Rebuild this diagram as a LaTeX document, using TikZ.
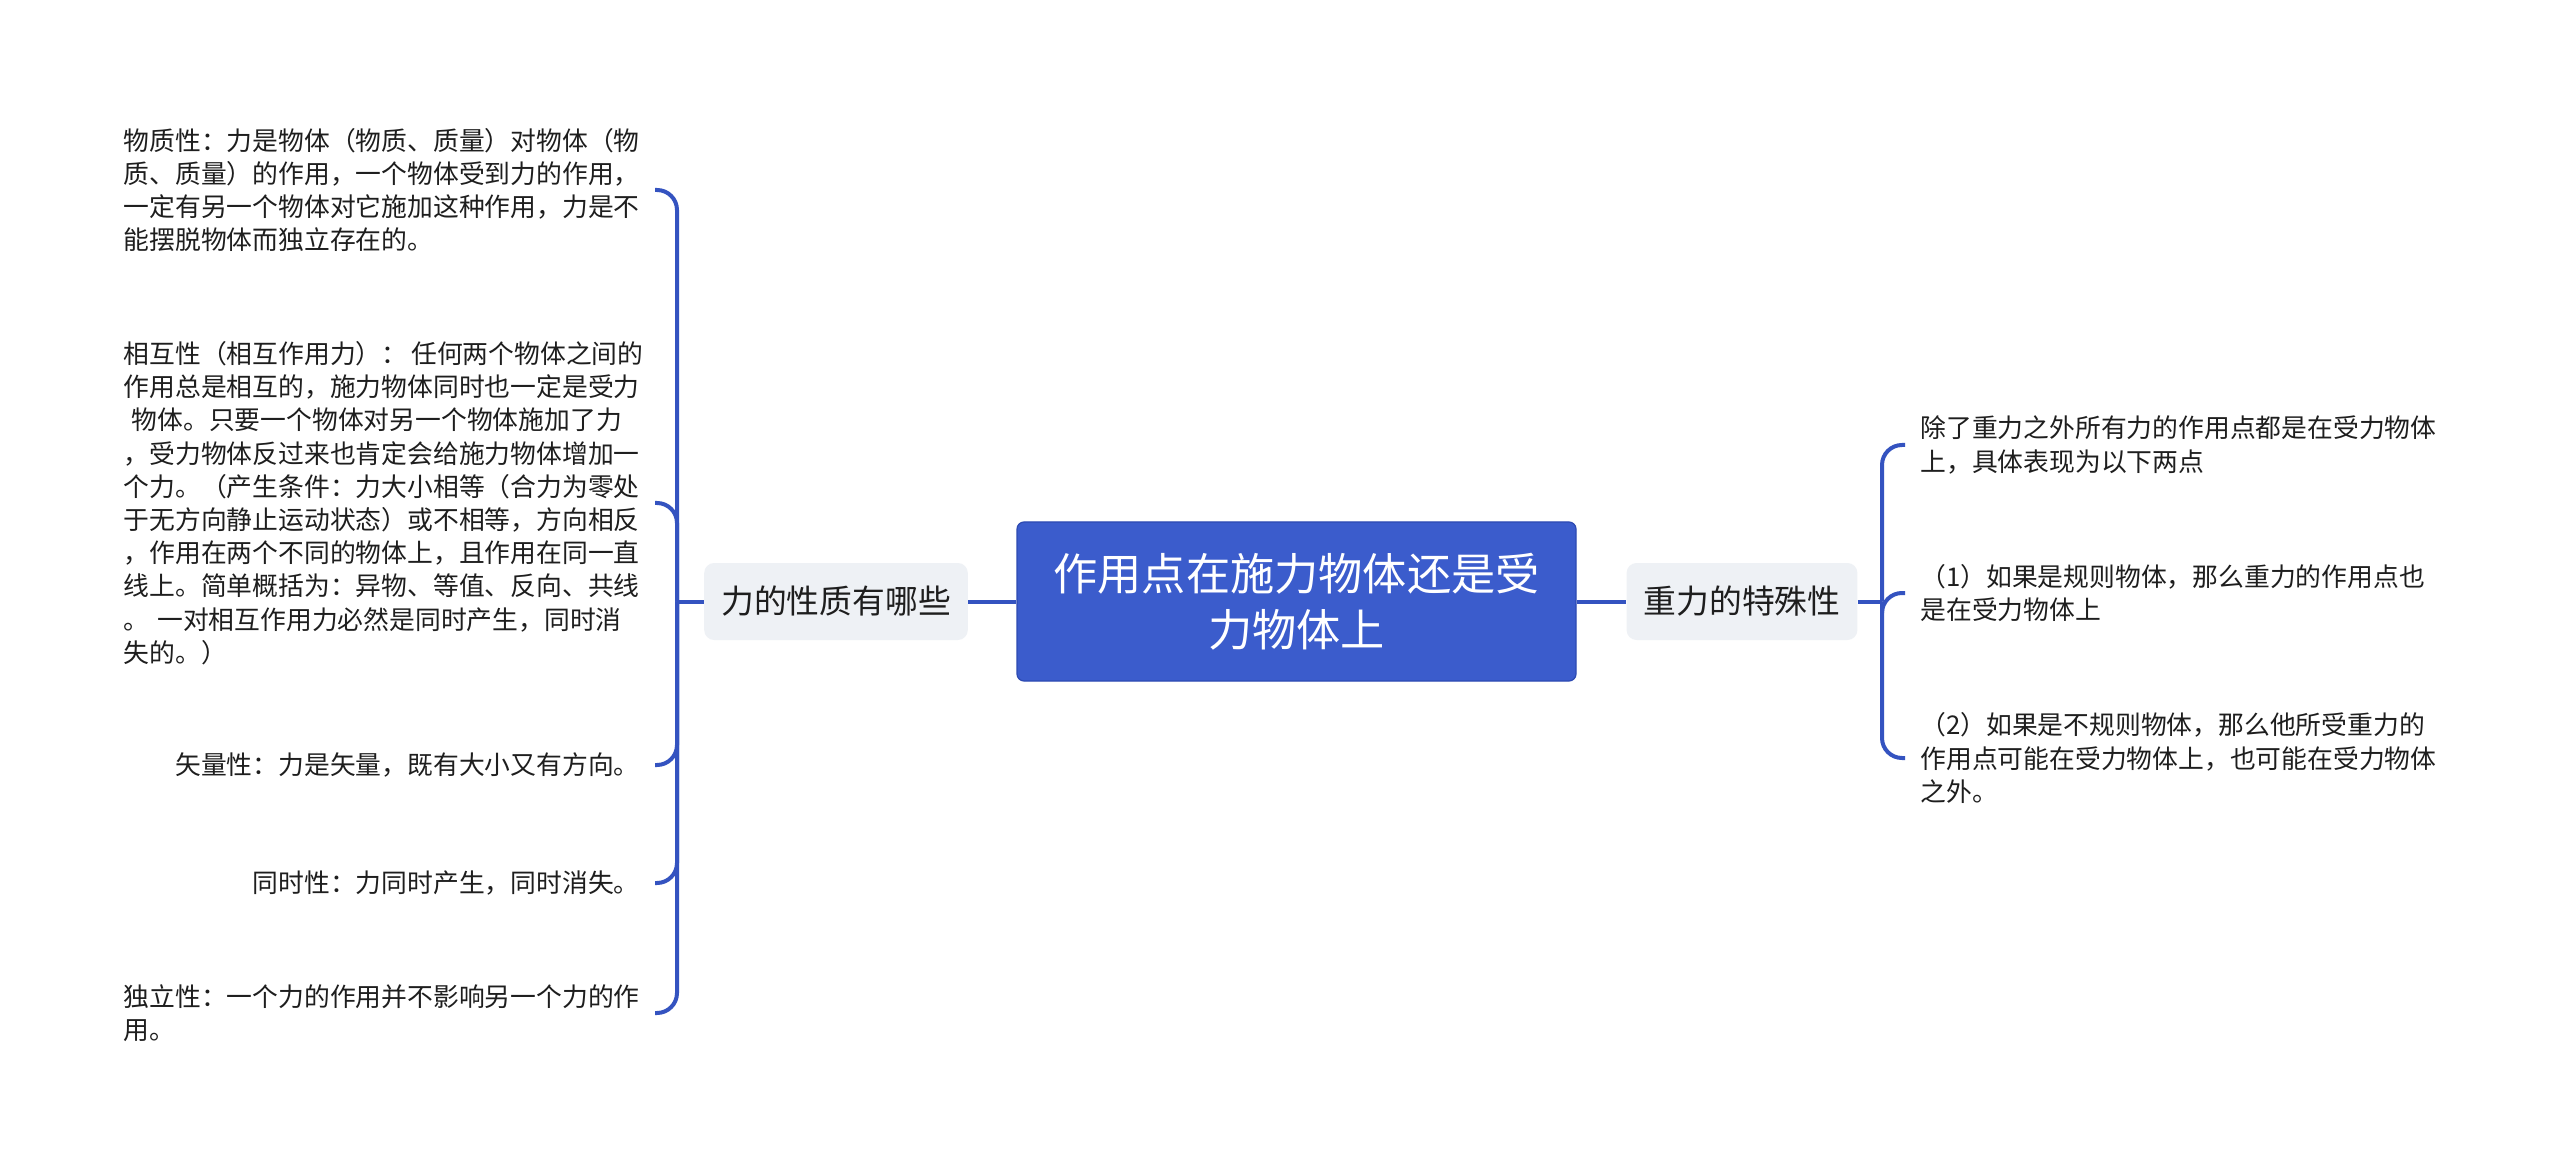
\documentclass[tikz,border=0pt]{standalone}
\usepackage{fontspec}
\setmainfont{Noto Sans CJK SC}

\definecolor{blauarrel}{RGB}{59,92,204}
\definecolor{vorarrel}{RGB}{45,74,178}
\definecolor{linia}{RGB}{52,83,192}
\definecolor{grisbranca}{RGB}{238,241,245}
\definecolor{textfosc}{RGB}{30,30,30}

\tikzset{
  arrel/.style={fill=blauarrel, draw=vorarrel, line width=0.6pt, rounded corners=3.5pt,
    text=white, font=\fontsize{22.1}{27.8}\selectfont, align=center,
    minimum width=279.5pt, minimum height=79.5pt, inner sep=0pt},
  branca/.style={fill=grisbranca, rounded corners=5pt, text=textfosc,
    font=\fontsize{16.4}{20}\selectfont, minimum height=38.5pt, inner xsep=8.5pt},
  fulla/.style={text=textfosc, font=\fontsize{12.9}{16.6}\selectfont,
    inner xsep=7.5pt, inner ysep=0pt},
  ampla/.style={text width=258pt, align=left},
  enllac/.style={draw=linia, line width=2pt, rounded corners=10pt},
}

\begin{document}
\begin{tikzpicture}[x=0.5pt, y=-0.5pt]
% fons
\fill[white] (0,0) rectangle (2560,1171);
\useasboundingbox (0,0) rectangle (2560,1171);

% centre i branques
\node[arrel] (arrel) at (1296.5,601.5) {作用点在施力物体还是受\\力物体上};
\node[branca] (forca) at (836,601.5) {力的性质有哪些};
\node[branca] (gravetat) at (1742,601.5) {重力的特殊性};
\coordinate (jE) at (677,601.5);
\coordinate (jD) at (1882,601.5);

% fulles esquerra
\node[fulla, ampla, anchor=east] (material) at (655,190)
  {物质性：力是物体（物质、质量）对物体（物\\质、质量）的作用，一个物体受到力的作用，\\一定有另一个物体对它施加这种作用，力是不\\能摆脱物体而独立存在的。};
\node[fulla, ampla, anchor=east] (mutua) at (655,503)
  {相互性（相互作用力）：\kern2pt 任何两个物体之间的\\作用总是相互的，施力物体同时也一定是受力\\\hspace*{4pt}物体。只要一个物体对另一个物体施加了力\\，受力物体反过来也肯定会给施力物体增加一\\个力。（产生条件：力大小相等（合力为零处\\于无方向静止运动状态）或不相等，方向相反\\，作用在两个不同的物体上，且作用在同一直\\线上。简单概括为：异物、等值、反向、共线\\。\kern4pt 一对相互作用力必然是同时产生，同时消\\失的。）};
\node[fulla, anchor=east] (vector) at (655,765) {矢量性：力是矢量，既有大小又有方向。};
\node[fulla, anchor=east] (simult) at (655,883) {同时性：力同时产生，同时消失。};
\node[fulla, ampla, anchor=east] (indep) at (655,1013)
  {独立性：一个力的作用并不影响另一个力的作\\用。};

% fulles dreta
\node[fulla, ampla, anchor=west] (excepte) at (1905,445)
  {除了重力之外所有力的作用点都是在受力物体\\上，具体表现为以下两点};
\node[fulla, ampla, anchor=west] (regular) at (1905,593)
  {（1）如果是规则物体，那么重力的作用点也\\是在受力物体上};
\node[fulla, ampla, anchor=west] (irregular) at (1905,758)
  {（2）如果是不规则物体，那么他所受重力的\\作用点可能在受力物体上，也可能在受力物体\\之外。};

% connexions
\draw[enllac] (arrel) -- (forca);
\draw[enllac] (arrel) -- (gravetat);
\draw[enllac] (forca) -- (jE);
\draw[enllac] (gravetat) -- (jD);
\foreach \f in {material,mutua,vector,simult,indep}
    \draw[enllac] (jE) |- (\f.east);
\foreach \f in {excepte,regular,irregular}
    \draw[enllac] (jD) |- (\f.west);

\end{tikzpicture}
\end{document}
